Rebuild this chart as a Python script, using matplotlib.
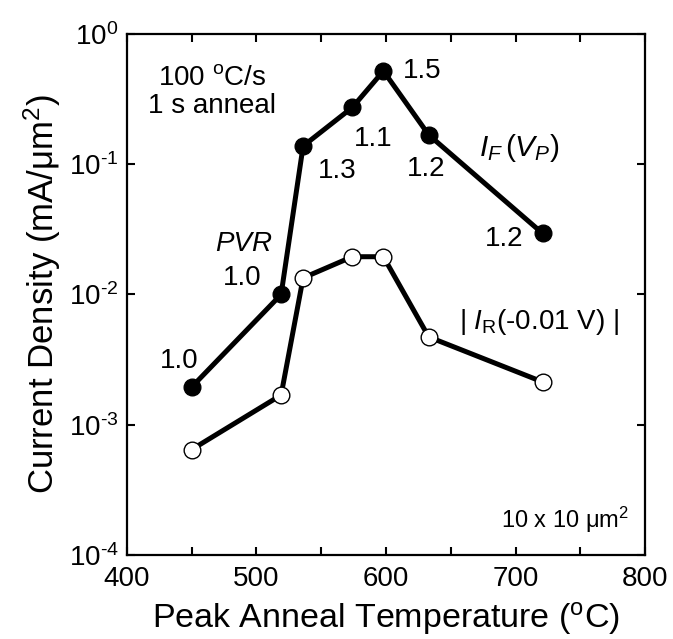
import math
import matplotlib
matplotlib.use("Agg")
import matplotlib.pyplot as plt
from matplotlib.ticker import FixedLocator, MultipleLocator, FuncFormatter

plt.rcParams['font.family'] = ['Liberation Sans', 'DejaVu Sans']
plt.rcParams['mathtext.fontset'] = 'custom'
plt.rcParams['mathtext.rm'] = 'Liberation Sans'
plt.rcParams['mathtext.it'] = 'Liberation Sans:italic'
plt.rcParams['mathtext.bf'] = 'Liberation Sans:bold'
plt.rcParams['axes.unicode_minus'] = False

## Data

# Peak anneal temperature (C)
temp_f = [450, 519, 536, 574, 598, 633, 721]
temp_r = [450, 519, 536, 574, 598, 633, 721]

# Current density (mA/um^2)
i_forward = [1.95e-3, 1.0e-2, 0.138, 0.273, 0.52, 0.168, 0.0294]
i_reverse = [6.45e-4, 1.69e-3, 0.0134, 0.0195, 0.0195, 4.72e-3, 2.13e-3]

# PVR labels next to the filled points
pvr_labels = ['1.0', '1.0', '1.3', '1.1', '1.5', '1.2', '1.2']
pvr_x = [440, 489, 562, 590, 628, 631, 691]
pvr_y = [3.08e-3, 1.34e-2, 0.089, 0.156, 0.52, 0.0916, 0.0265]


def decade(v, pos):
    e = round(math.log10(v))
    if e < 0:
        return r'$10^{\text{-}%d}$' % (-e)
    return r'$10^{%d}$' % e


## Plot
fig = plt.figure(figsize=(6.73, 6.39), dpi=100)
ax = fig.add_axes([0.1887, 0.1315, 0.7697, 0.8153])

ax.plot(temp_f, i_forward, color='black', lw=3.6, marker='o', ms=12,
        mfc='black', mec='black', zorder=3)
ax.plot(temp_r, i_reverse, color='black', lw=3.6, marker='o', ms=12,
        mfc='white', mec='black', mew=1.0, zorder=3)

ax.set_yscale('log')
ax.set_xlim(400, 800)
ax.set_ylim(1e-4, 1e0)

ax.xaxis.set_major_locator(MultipleLocator(100))
ax.xaxis.set_minor_locator(MultipleLocator(50))
ax.yaxis.set_major_locator(FixedLocator([1e-4, 1e-3, 1e-2, 1e-1, 1e0]))
ax.yaxis.set_minor_locator(FixedLocator([]))
ax.yaxis.set_major_formatter(FuncFormatter(decade))

ax.tick_params(which='both', direction='in', top=True, right=True,
               length=6, width=1.5, labelsize=20)
ax.tick_params(axis='x', pad=8)
ax.tick_params(axis='y', pad=6)
for s in ax.spines.values():
    s.set_linewidth(1.6)

ax.set_xlabel(r'Peak Anneal Temperature ($\mathrm{^oC}$)', fontsize=24.5, labelpad=6)
ax.set_ylabel(r'Current Density (mA/$\mathrm{\mu m^2}$)', fontsize=25, labelpad=4)

# Annotations
for lab, x, y in zip(pvr_labels, pvr_x, pvr_y):
    ax.text(x, y, lab, fontsize=20, ha='center', va='center')
ax.text(490, 0.0243, 'PVR', fontsize=20, style='italic', ha='center', va='center')
ax.text(465.6, 0.459, r'100 $\mathrm{^oC}$/s', fontsize=20, ha='center', va='center')
ax.text(465.6, 0.282, '1 s anneal', fontsize=20, ha='center', va='center')
ax.text(702.7, 0.134, r'$I_F\,(V_P)$', fontsize=21.5, ha='center', va='center')
ax.text(717.7, 6.2e-3, r'$\mathit{|}\ I_{\mathrm{R}}$(-0.01 V) |', fontsize=20,
        ha='center', va='center')
ax.text(787.6, 1.86e-4, r'10 x 10 $\mathrm{\mu m^2}$', fontsize=17, ha='right', va='center')

plt.savefig('out.png', dpi=100)
